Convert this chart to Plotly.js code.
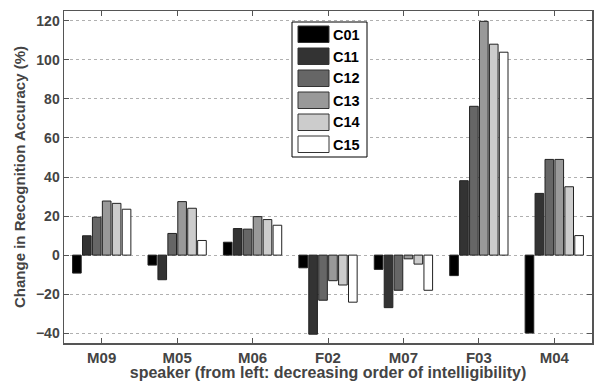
<!DOCTYPE html>
<html>
<head>
<meta charset="utf-8">
<script src="https://cdn.plot.ly/plotly-3.0.1.min.js"></script>
<style>html,body{margin:0;padding:0;background:#fff;}#chart{width:594px;height:381px;}</style>
</head>
<body>
<div id="chart"></div>
<script>
const speakers = ["M09", "M05", "M06", "F02", "M07", "F03", "M04"];
const seriesNames = ["C01", "C11", "C12", "C13", "C14", "C15"];
const seriesColors = ["#000000", "#333333", "#666666", "#999999", "#cccccc", "#ffffff"];
const C01 = [-9.2, -5.1, 6.6, -6.5, -7.3, -10.5, -39.9];
const C11 = [9.9, -12.6, 13.6, -40.5, -26.9, 38.1, 31.6];
const C12 = [19.4, 11.1, 13.3, -23.1, -18.0, 76.2, 49.0];
const C13 = [27.7, 27.4, 19.7, -13.1, -1.9, 119.7, 49.0];
const C14 = [26.5, 24.0, 18.2, -15.3, -4.6, 108.0, 35.0];
const C15 = [23.5, 7.5, 15.3, -24.1, -18.0, 103.9, 10.0];
const yTicks = [-40, -20, 0, 20, 40, 60, 80, 100, 120];

const seriesValues = [C01, C11, C12, C13, C14, C15];

const traces = seriesNames.map((n, i) => ({
  type: 'bar', name: n, x: speakers, y: seriesValues[i],
  marker: {color: seriesColors[i], line: {color: '#222', width: 1}},
  showlegend: false, hoverinfo: 'skip'
}));

// plot area pixel geometry
const L = 64, T = 11, W = 528, H = 332;
const px = v => (v - L) / W;
const py = v => 1 - (v - T) / H;

const shapes = [];
const annotations = [];
// legend box
shapes.push({type: 'rect', xref: 'paper', yref: 'paper', x0: px(292), x1: px(367), y0: py(157), y1: py(22),
  line: {color: '#000', width: 1}, fillcolor: '#fff', layer: 'above'});
seriesNames.forEach((n, i) => {
  const top = 26 + i * 22;
  shapes.push({type: 'rect', xref: 'paper', yref: 'paper', x0: px(298), x1: px(329), y0: py(top + 16.5), y1: py(top),
    line: {color: '#333', width: 1}, fillcolor: seriesColors[i], layer: 'above'});
  annotations.push({xref: 'paper', yref: 'paper', x: px(331), y: py(top + 8.5), xanchor: 'left', yanchor: 'middle',
    text: '<b>' + n + '</b>', showarrow: false, font: {family: 'Liberation Sans, Arial, sans-serif', size: 14.5, color: '#000'}});
});

const layout = {
  width: 594, height: 381,
  margin: {l: L, r: 594 - L - W, t: T, b: 381 - T - H},
  paper_bgcolor: '#fff', plot_bgcolor: '#fff',
  barmode: 'group', bargap: 0.21, bargroupgap: 0.13,
  font: {family: 'Liberation Sans, Arial, sans-serif', color: '#444'},
  xaxis: {
    type: 'category', range: [-0.5, 6.5], showgrid: false, zeroline: false,
    ticks: 'inside', ticklen: 5, tickcolor: '#555', showline: true, linecolor: '#555', linewidth: 1.5, mirror: 'ticks',
    tickfont: {size: 15, color: '#444', weight: 'bold'},
    title: {text: '<b>speaker (from left: decreasing order of intelligibility)</b>', font: {size: 16, color: '#444'}, standoff: 0}
  },
  yaxis: {
    range: [-45, 125], tickvals: yTicks, showgrid: true, gridcolor: '#b0b0b0', griddash: 'dot', gridwidth: 1,
    zeroline: false, ticks: 'inside', ticklen: 5, tickcolor: '#555', showline: true, linecolor: '#555', linewidth: 1.5, mirror: 'ticks',
    tickfont: {size: 14, color: '#444', weight: 'bold'},
    title: {text: '<b>Change in Recognition Accuracy (%)</b>', font: {size: 15, color: '#444'}, standoff: 6}
  },
  shapes: shapes, annotations: annotations
};

Plotly.newPlot('chart', traces, layout, {staticPlot: true});
</script>
</body>
</html>
